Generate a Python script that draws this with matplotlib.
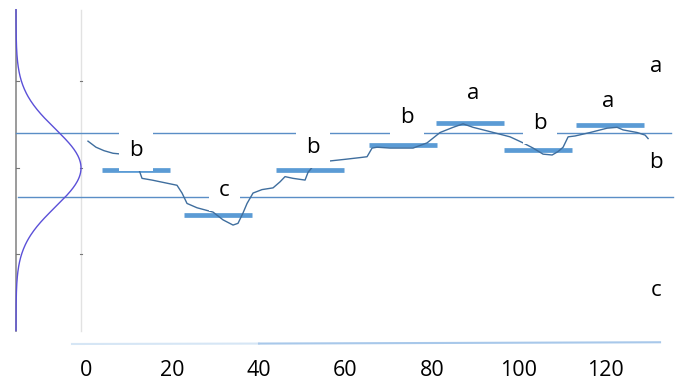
import numpy as np
import matplotlib.pyplot as plt

# group means (thick bars): start, end, level
bar_left = [3.7, 22.7, 43.9, 65.4, 80.9, 96.6, 113.3]
bar_right = [19.4, 38.4, 59.7, 81.2, 96.6, 112.4, 129.0]
bar_level = [-0.02, -0.54, -0.02, 0.27, 0.52, 0.21, 0.50]

# smoothed trace
trace_x = [0.46, 2.31, 4.16, 6.24, 8.32, 10.64, 12.25, 12.95, 15.26, 21.04,
           22.20, 23.35, 25.66, 29.36, 31.68, 33.99, 35.14, 36.30, 37.23, 38.61,
           40.69, 43.24, 44.86, 46.01, 47.86, 50.64, 51.33, 52.49, 54.10, 56.18,
           59.88, 63.35, 64.97, 66.13, 67.28, 70.29, 75.61, 78.84, 81.85, 84.86,
           87.17, 89.48, 93.41, 98.03, 101.04, 103.35, 105.66, 107.75, 109.13, 110.29,
           111.45, 113.06, 116.53, 120.46, 122.77, 124.16, 127.40, 129.25, 129.94]
trace_y = [0.31, 0.24, 0.20, 0.17, 0.16, 0.09, -0.02, -0.12, -0.14, -0.20,
           -0.29, -0.41, -0.46, -0.51, -0.60, -0.66, -0.64, -0.52, -0.41, -0.29,
           -0.25, -0.23, -0.16, -0.10, -0.12, -0.14, -0.05, 0.02, 0.06, 0.08,
           0.10, 0.12, 0.13, 0.23, 0.24, 0.23, 0.23, 0.29, 0.41, 0.47,
           0.51, 0.47, 0.42, 0.36, 0.29, 0.23, 0.16, 0.15, 0.19, 0.24,
           0.36, 0.37, 0.41, 0.46, 0.47, 0.44, 0.41, 0.38, 0.34]

# letter labels
group_letters = ["b", "c", "b", "b", "a", "b", "a"]
group_x = [11.6, 32.0, 52.5, 74.2, 89.5, 105.0, 120.7]
group_y = [0.20, -0.26, 0.24, 0.58, 0.86, 0.51, 0.77]
side_letters = ["a", "b", "c"]
side_y = [1.17, 0.06, -1.42]

# threshold lines and reference distribution
upper_level = 0.405
lower_level = -0.335
dist_mean = 0.0
dist_sd = 0.45
x_ticks = [0, 20, 40, 60, 80, 100, 120]

plt.rcParams["font.family"] = ["Open Sans", "DejaVu Sans"]
fig = plt.figure(figsize=(6.86, 3.83), dpi=100)
ax = fig.add_axes([0, 0, 1, 1])
ax.set_xlim(-19.88, 138.7)
ax.set_ylim(-2.486, 1.942)
ax.axis("off")

line_blue = "#5a8ec6"

# left distribution panel
ax.plot([-16.18, -16.18], [-1.88, 1.83], color="#8a8a8a", lw=1.2, zorder=2)
ax.plot([-1.16, -1.16], [-1.88, 1.83], color="#e2e2e2", lw=1, zorder=1)
for t in [-1, 0, 1]:
    ax.plot([-16.18, -15.6], [t, t], color="#777777", lw=0.8)
    ax.plot([-1.4, -0.9], [t, t], color="#777777", lw=0.8)
gy = np.linspace(-1.88, 1.83, 300)
gx = -16.18 + 15.03 * np.exp(-((gy - dist_mean) ** 2) / (2 * dist_sd ** 2))
ax.plot(gx, gy, color="#5b50d8", lw=1.0, zorder=3)

# threshold lines
ax.plot([-16.18, 135.3], [upper_level, upper_level], color=line_blue, lw=1.0, zorder=2)
ax.plot([-15.7, 135.7], [lower_level, lower_level], color=line_blue, lw=1.0, zorder=2)

# bars
for x0, x1, lv in zip(bar_left, bar_right, bar_level):
    ax.plot([x0, x1], [lv, lv], color="#5b9bd5", lw=3.4,
            solid_capstyle="butt", zorder=3)

# trace
ax.plot(trace_x, trace_y, color="#3f6e9e", lw=1.0, zorder=4)

# letters (white boxes break the lines behind them)
box = dict(facecolor="white", edgecolor="none", boxstyle="square,pad=0.45")
for s, x, y in zip(group_letters, group_x, group_y):
    ax.text(x, y, s, fontsize=16, ha="center", va="center",
            bbox=box, zorder=5)
for s, y in zip(side_letters, side_y):
    ax.text(131.8, y, s, fontsize=16, ha="center", va="center", zorder=5)

# bottom axis
ax.plot([-3.24, 40], [-2.035, -2.03], color="#d6e6f5", lw=1.5)
ax.plot([40, 132.7], [-2.03, -2.015], color="#a8c8ea", lw=1.5)
for t in x_ticks:
    ax.text(t, -2.34, str(t), fontsize=15.5, ha="center", va="center")

fig.savefig("out.png", dpi=100)
